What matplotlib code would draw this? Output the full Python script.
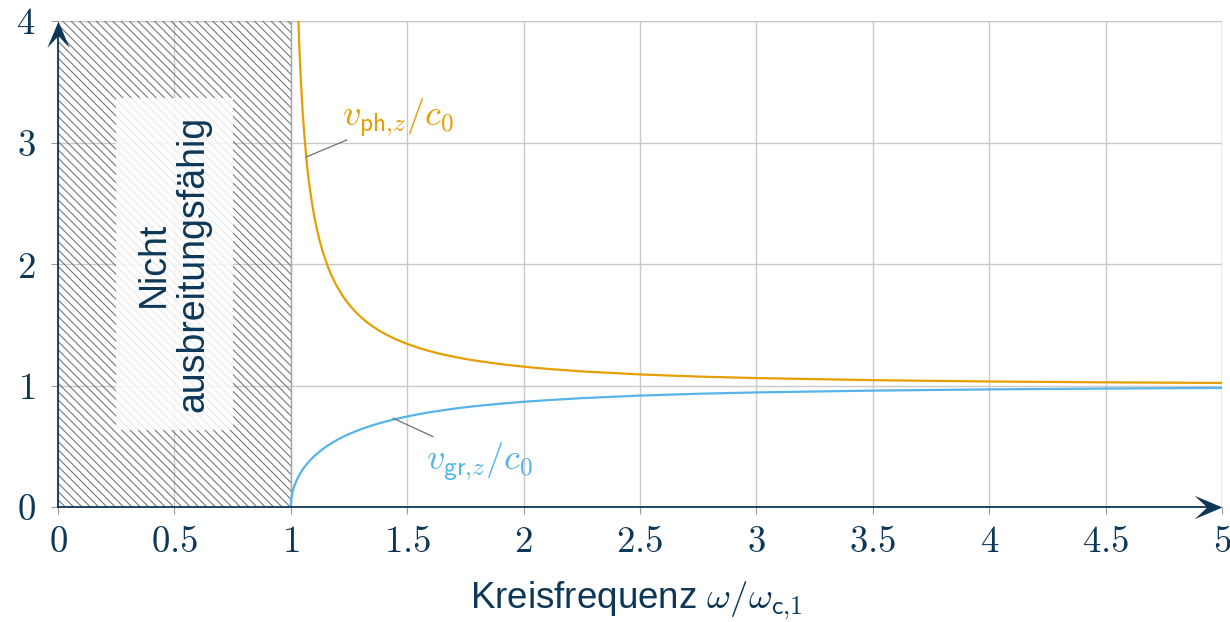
import matplotlib
matplotlib.use("Agg")
import matplotlib.pyplot as plt
from matplotlib.patches import Rectangle
from matplotlib.path import Path
from matplotlib.markers import MarkerStyle

# ---- data ----
x_gr = [1.0, 1.001, 1.002, 1.005, 1.01, 1.015, 1.02, 1.03, 1.035, 1.04, 1.045, 1.05, 1.055,
        1.06, 1.07, 1.075, 1.08, 1.09, 1.1, 1.11, 1.125, 1.14, 1.15, 1.16, 1.175, 1.19,
        1.2, 1.225, 1.25, 1.275, 1.3, 1.325, 1.35, 1.375, 1.4, 1.45, 1.5, 1.55, 1.6,
        1.65, 1.7, 1.75, 1.8, 1.9, 2.0, 2.1, 2.25, 2.5, 2.75, 3.0, 3.5, 4.0, 4.5, 5.0]
v_gr = [0.0, 0.045, 0.063, 0.100, 0.140, 0.171, 0.197, 0.240, 0.258, 0.275, 0.290, 0.305,
        0.319, 0.332, 0.356, 0.367, 0.378, 0.398, 0.417, 0.434, 0.458, 0.480, 0.494,
        0.507, 0.525, 0.542, 0.553, 0.578, 0.600, 0.620, 0.639, 0.656, 0.672, 0.686,
        0.700, 0.724, 0.745, 0.764, 0.781, 0.795, 0.809, 0.821, 0.832, 0.850, 0.866,
        0.879, 0.896, 0.917, 0.932, 0.943, 0.958, 0.968, 0.975, 0.980]
x_ph = [1.02, 1.03, 1.035, 1.04, 1.045, 1.05, 1.055, 1.06, 1.07, 1.075, 1.08, 1.09, 1.1,
        1.11, 1.125, 1.14, 1.15, 1.16, 1.175, 1.19, 1.2, 1.225, 1.25, 1.275, 1.3, 1.325,
        1.35, 1.375, 1.4, 1.45, 1.5, 1.55, 1.6, 1.65, 1.7, 1.75, 1.8, 1.9, 2.0, 2.1,
        2.25, 2.5, 2.75, 3.0, 3.5, 4.0, 4.5, 5.0]
v_ph = [5.07, 4.17, 3.878, 3.64, 3.445, 3.28, 3.138, 3.015, 2.811, 2.72, 2.648, 2.513,
        2.40, 2.304, 2.183, 2.083, 2.03, 1.973, 1.905, 1.845, 1.81, 1.731, 1.667, 1.612,
        1.565, 1.524, 1.489, 1.457, 1.429, 1.381, 1.342, 1.309, 1.281, 1.257, 1.237,
        1.218, 1.203, 1.176, 1.155, 1.137, 1.116, 1.091, 1.0735, 1.061, 1.044, 1.033,
        1.026, 1.021]
x_ticks = [0, 0.5, 1, 1.5, 2, 2.5, 3, 3.5, 4, 4.5, 5]
x_ticklabels = ["0", "0.5", "1", "1.5", "2", "2.5", "3", "3.5", "4", "4.5", "5"]
y_ticks = [0, 1, 2, 3, 4]
y_ticklabels = ["0", "1", "2", "3", "4"]

NAVY = "#0d3757"
ORANGE = "#E69F00"
BLUE = "#56B4E9"

plt.rcParams["font.family"] = ["Liberation Sans", "DejaVu Sans"]
plt.rcParams["mathtext.fontset"] = "cm"
plt.rcParams["hatch.linewidth"] = 0.75

W, H = 1230, 622
fig = plt.figure(figsize=(W / 100, H / 100), dpi=100)
ax = fig.add_axes([58 / W, 1 - 507 / H, (1222 - 58) / W, (507 - 21) / H])
ax.set_xlim(0, 5)
ax.set_ylim(0, 4)

ax.set_xticks(x_ticks)
ax.set_xticklabels(["$%s$" % t for t in x_ticklabels])
ax.set_yticks(y_ticks)
ax.set_yticklabels(["$%s$" % t for t in y_ticklabels])
ax.tick_params(axis="both", colors="#9a9a9a", labelcolor=NAVY, labelsize=26.5,
               length=5, width=0.8, direction="out")
ax.tick_params(axis="x", pad=8)
ax.tick_params(axis="y", pad=11)
for s in ax.spines.values():
    s.set_visible(False)
ax.grid(True, color="#c9c9c9", linewidth=1.0, zorder=0)
ax.set_axisbelow(True)
ax.axhline(4, color="#c9c9c9", lw=1.0, zorder=0.5)
ax.axvline(5, color="#c9c9c9", lw=1.0, zorder=0.5)

# hatched region (not propagating)
ax.add_patch(Rectangle((0, 0), 1, 4, facecolor="none", edgecolor="#6e6e6e",
                       hatch="\\\\\\\\", linewidth=0, zorder=1))
ax.plot([1, 1], [0, 4], color="#a8a8a8", lw=1.0, zorder=1.1)
# semi-transparent white box
ax.add_patch(Rectangle((0.25, 0.63), 0.5, 2.74, facecolor="white", edgecolor="none",
                       alpha=0.85, zorder=2))
ax.text(0.497, 2.0, "Nicht\nausbreitungsfähig", rotation=90, ha="center", va="center",
        color=NAVY, fontsize=27, linespacing=1.15, zorder=3)

# curves
ax.plot(x_ph, v_ph, color=ORANGE, lw=1.6, zorder=4)
ax.plot(x_gr, v_gr, color=BLUE, lw=1.6, zorder=4)

# labels with leader lines
ax.plot([1.065, 1.24], [2.88, 3.02], color="#707070", lw=0.9, zorder=4)
ax.text(1.22, 3.2, r"$v_{\mathsf{ph}{,}z}/c_0$", color=ORANGE, fontsize=26,
        ha="left", va="center", zorder=5)
ax.plot([1.44, 1.61], [0.73, 0.58], color="#707070", lw=0.9, zorder=4)
ax.text(1.58, 0.37, r"$v_{\mathsf{gr}{,}z}/c_0$", color=BLUE, fontsize=26,
        ha="left", va="center", zorder=5)

# axis arrows (stealth heads)
ax.plot([0, 4.97], [0, 0], color=NAVY, lw=1.3, clip_on=False, zorder=6)
ax.plot([0, 0], [0, 3.95], color=NAVY, lw=1.3, clip_on=False, zorder=6)
right_head = MarkerStyle(Path([(0, 0), (-1, 0.42), (-0.55, 0), (-1, -0.42), (0, 0)],
                              [1, 2, 2, 2, 79]))
up_head = MarkerStyle(Path([(0, 0), (0.42, -1), (0, -0.55), (-0.42, -1), (0, 0)],
                           [1, 2, 2, 2, 79]))
ax.plot([5], [0], marker=right_head, ms=40, color=NAVY, mec="none", clip_on=False,
        zorder=7)
ax.plot([0], [4], marker=up_head, ms=38, color=NAVY, mec="none", clip_on=False,
        zorder=7)

fig.text(636 / W, (H - 608) / H, r"Kreisfrequenz $\omega/\omega_{\mathsf{c}{,}1}$",
         color=NAVY, fontsize=26.5, ha="center", va="baseline")

fig.savefig("out.png", dpi=100)
